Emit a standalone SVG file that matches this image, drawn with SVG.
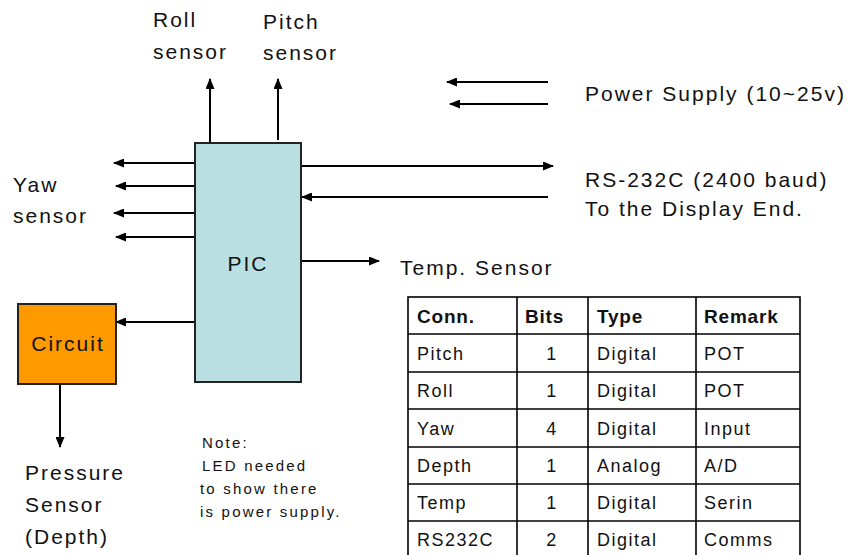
<svg xmlns="http://www.w3.org/2000/svg" width="850" height="555" viewBox="0 0 850 555">
<style>
text{font-family:"Liberation Sans",Arial,sans-serif;fill:#111}
.lb{font-size:21px;letter-spacing:2px}
.tb{font-size:18px;letter-spacing:1.5px}
.th{font-size:19px;font-weight:bold;letter-spacing:0.8px}
.nt{font-size:15px;letter-spacing:2.2px}
.ln{stroke:#000;stroke-width:2;fill:none}
.cl{stroke:#000;stroke-width:1.6;fill:none}
</style>
<defs>
<marker id="ah" markerWidth="11" markerHeight="9" refX="10" refY="4.5" orient="auto" markerUnits="userSpaceOnUse">
<path d="M0,0 L11,4.5 L0,9 Z" fill="#000"/>
</marker>
</defs>
<rect width="850" height="555" fill="#fff"/>
<g id="connectors">
<line class="ln" x1="210" y1="143" x2="210" y2="79" marker-end="url(#ah)"/>
<line class="ln" x1="278" y1="140" x2="278" y2="79" marker-end="url(#ah)"/>
<line class="ln" x1="195" y1="163" x2="114" y2="163" marker-end="url(#ah)"/>
<line class="ln" x1="195" y1="186" x2="116" y2="186" marker-end="url(#ah)"/>
<line class="ln" x1="195" y1="213" x2="114" y2="213" marker-end="url(#ah)"/>
<line class="ln" x1="195" y1="237" x2="116" y2="237" marker-end="url(#ah)"/>
<line class="ln" x1="195" y1="322" x2="116" y2="322" marker-end="url(#ah)"/>
<line class="ln" x1="60" y1="384" x2="60" y2="447" marker-end="url(#ah)"/>
<line class="ln" x1="548" y1="82" x2="447" y2="82" marker-end="url(#ah)"/>
<line class="ln" x1="548" y1="104" x2="450" y2="104" marker-end="url(#ah)"/>
<line class="ln" x1="301" y1="166" x2="553" y2="166" marker-end="url(#ah)"/>
<line class="ln" x1="548" y1="197" x2="302" y2="197" marker-end="url(#ah)"/>
<line class="ln" x1="301" y1="261" x2="379" y2="261" marker-end="url(#ah)"/>
</g>
<g id="pic">
<rect x="195" y="143" width="106" height="239" fill="#B9DFE3" stroke="#222" stroke-width="2"/>
<text class="lb" x="248" y="271" text-anchor="middle">PIC</text>
</g>
<g id="circuit">
<rect x="18" y="304" width="98" height="80" fill="#FF9900" stroke="#222" stroke-width="2"/>
<text class="lb" x="68" y="351" text-anchor="middle">Circuit</text>
</g>
<g id="roll-sensor">
<text class="lb" x="153" y="27">Roll</text>
<text class="lb" x="153" y="59">sensor</text>
</g>
<g id="pitch-sensor">
<text class="lb" x="263" y="29">Pitch</text>
<text class="lb" x="263" y="60">sensor</text>
</g>
<g id="yaw-sensor">
<text class="lb" x="13" y="192">Yaw</text>
<text class="lb" x="13" y="223">sensor</text>
</g>
<g id="power-supply">
<text class="lb" x="585" y="101">Power Supply (10~25v)</text>
</g>
<g id="rs232">
<text class="lb" x="585" y="187">RS-232C (2400 baud)</text>
<text class="lb" x="585" y="216">To the Display End.</text>
</g>
<g id="temp-sensor">
<text class="lb" x="400" y="275">Temp. Sensor</text>
</g>
<g id="pressure-sensor">
<text class="lb" x="25" y="480">Pressure</text>
<text class="lb" x="25" y="512">Sensor</text>
<text class="lb" x="25" y="544">(Depth)</text>
</g>
<g id="note">
<text class="nt" x="202" y="448">Note:</text>
<text class="nt" x="202" y="471">LED needed</text>
<text class="nt" x="200" y="494">to show there</text>
<text class="nt" x="200" y="517">is power supply.</text>
</g>
<g id="table">
<rect class="cl" x="408" y="297" width="392" height="262" stroke-width="2"/>
<line class="cl" x1="517" y1="297" x2="517" y2="559"/>
<line class="cl" x1="588" y1="297" x2="588" y2="559"/>
<line class="cl" x1="696" y1="297" x2="696" y2="559"/>
<line class="cl" x1="408" y1="334" x2="800" y2="334"/>
<line class="cl" x1="408" y1="372" x2="800" y2="372"/>
<line class="cl" x1="408" y1="409" x2="800" y2="409"/>
<line class="cl" x1="408" y1="447" x2="800" y2="447"/>
<line class="cl" x1="408" y1="484" x2="800" y2="484"/>
<line class="cl" x1="408" y1="521" x2="800" y2="521"/>
<text class="th" x="417" y="323">Conn.</text>
<text class="th" x="525" y="323">Bits</text>
<text class="th" x="597" y="323">Type</text>
<text class="th" x="704" y="323">Remark</text>
<text class="tb" x="417" y="360">Pitch</text>
<text class="tb" x="552" y="360" text-anchor="middle">1</text>
<text class="tb" x="597" y="360">Digital</text>
<text class="tb" x="704" y="360">POT</text>
<text class="tb" x="417" y="397">Roll</text>
<text class="tb" x="552" y="397" text-anchor="middle">1</text>
<text class="tb" x="597" y="397">Digital</text>
<text class="tb" x="704" y="397">POT</text>
<text class="tb" x="417" y="435">Yaw</text>
<text class="tb" x="552" y="435" text-anchor="middle">4</text>
<text class="tb" x="597" y="435">Digital</text>
<text class="tb" x="704" y="435">Input</text>
<text class="tb" x="417" y="472">Depth</text>
<text class="tb" x="552" y="472" text-anchor="middle">1</text>
<text class="tb" x="597" y="472">Analog</text>
<text class="tb" x="704" y="472">A/D</text>
<text class="tb" x="417" y="509">Temp</text>
<text class="tb" x="552" y="509" text-anchor="middle">1</text>
<text class="tb" x="597" y="509">Digital</text>
<text class="tb" x="704" y="509">Serin</text>
<text class="tb" x="417" y="546">RS232C</text>
<text class="tb" x="552" y="546" text-anchor="middle">2</text>
<text class="tb" x="597" y="546">Digital</text>
<text class="tb" x="704" y="546">Comms</text>
</g>
</svg>
